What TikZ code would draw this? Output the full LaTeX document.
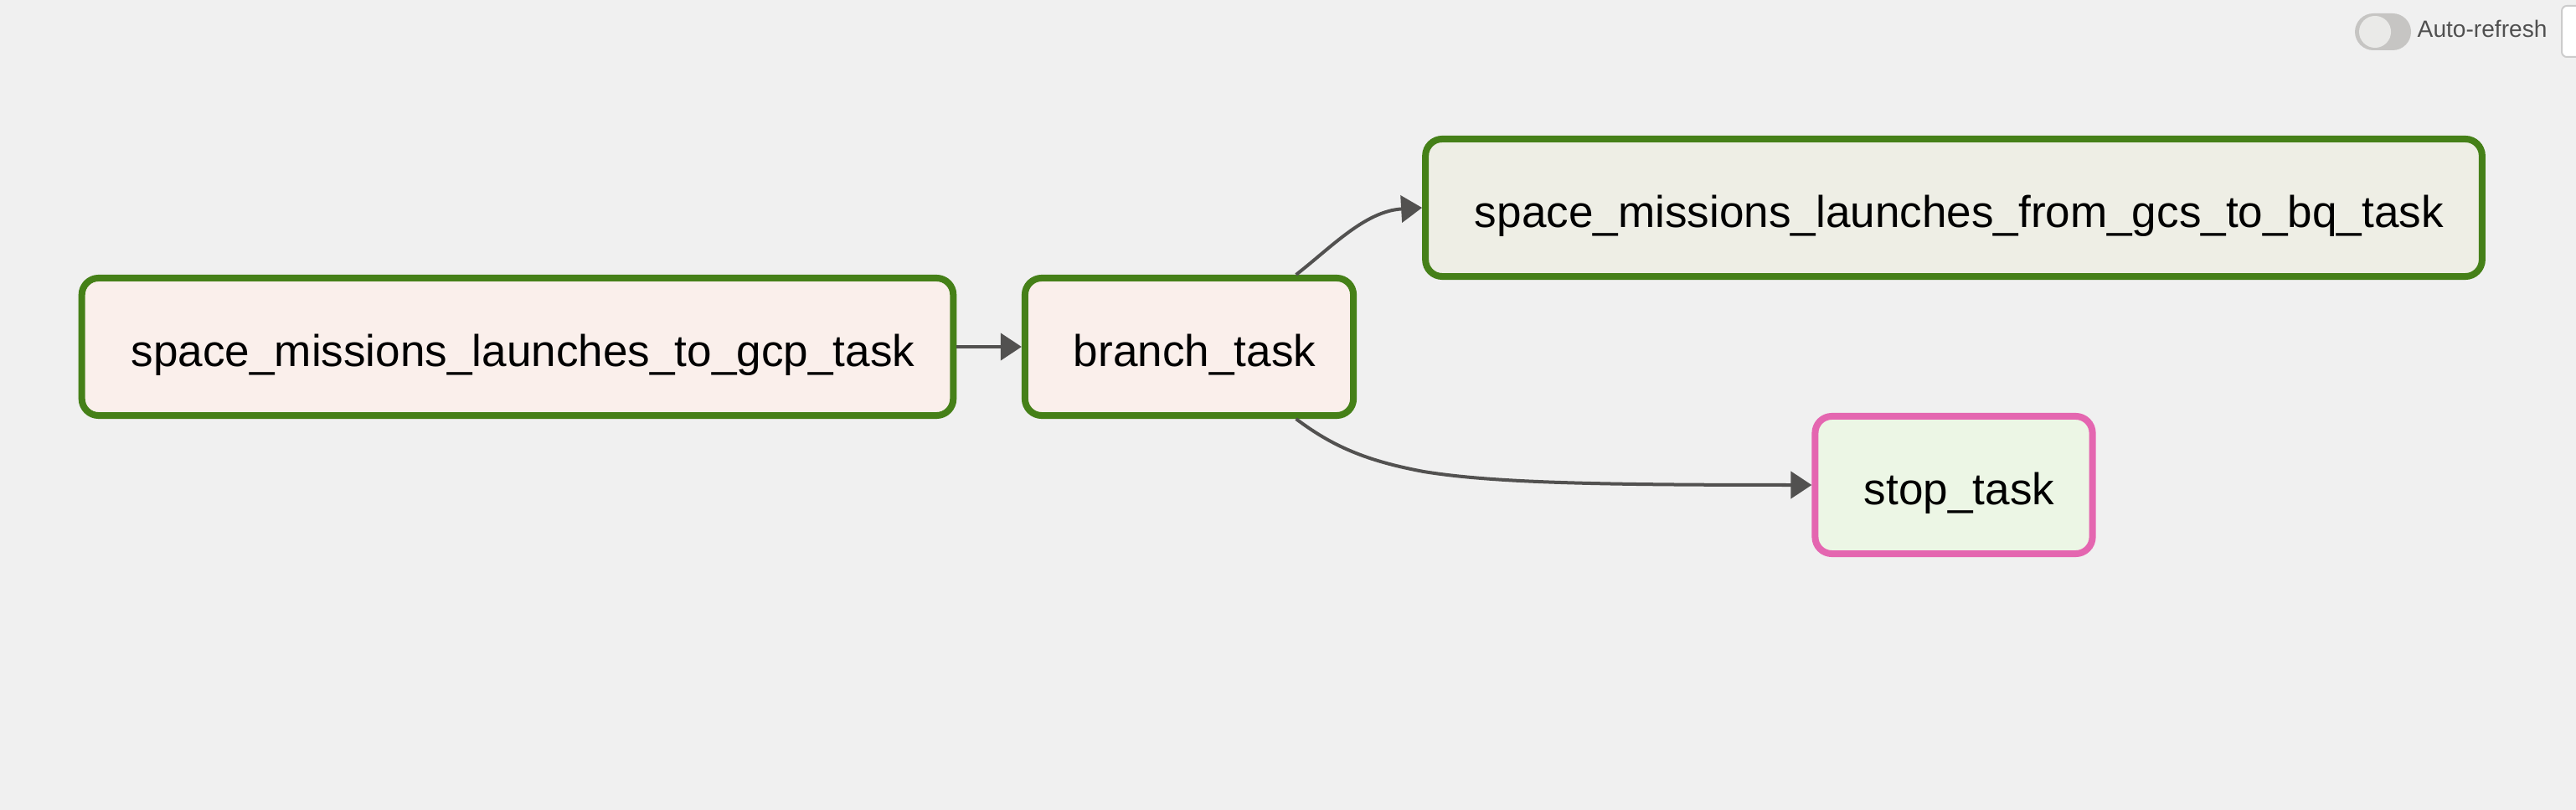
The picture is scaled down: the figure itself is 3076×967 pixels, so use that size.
\documentclass[tikz,border=0pt]{standalone}
\usepackage{fontspec}
\setmainfont{Liberation Sans}
\usepackage{tikz}
\usetikzlibrary{arrows.meta}

\definecolor{bgcol}{RGB}{240,240,240}
\definecolor{okgreen}{RGB}{69,128,24}
\definecolor{skippink}{RGB}{228,102,176}
\definecolor{pyfill}{RGB}{250,239,235}
\definecolor{gcsfill}{RGB}{238,238,229}
\definecolor{emptyfill}{RGB}{236,246,229}
\definecolor{edgegrey}{RGB}{82,81,80}
\definecolor{togglegrey}{RGB}{198,197,195}
\definecolor{knobgrey}{RGB}{234,234,232}
\definecolor{labelgrey}{RGB}{80,80,80}

\begin{document}
\begin{tikzpicture}[x=0.01cm, y=-0.01cm,
  task/.style={draw=okgreen, line width=0.08cm, rounded corners=0.2cm, inner sep=0pt,
    minimum height=1.64cm, text height=0.47cm, text depth=0pt, text=black,
    font=\fontsize{15.1pt}{18pt}\selectfont, execute at begin node=\hspace*{0.13cm}},
  edge/.style={draw=edgegrey, line width=0.04cm, -{Triangle[length=0.25cm,width=0.32cm]}}]
\path[fill=bgcol, use as bounding box] (0,0) rectangle (3076,967);
\node[task, fill=pyfill, minimum width=10.40cm](gcp) at (618,414) {space\_missions\_launches\_to\_gcp\_task};
\node[task, fill=pyfill, minimum width=3.92cm](branch) at (1420,414) {branch\_task};
\node[task, fill=gcsfill, minimum width=12.61cm](gcs) at (2333,248) {space\_missions\_launches\_from\_gcs\_to\_bq\_task};
\node[task, draw=skippink, fill=emptyfill, minimum width=3.31cm](stop) at (2333,579) {stop\_task};
%
\draw[edge](gcp) -- (branch);
\draw[edge](branch.34.5) .. controls (1590,295) and (1630,252) .. (gcs.west);
\draw[edge](branch.-34.5) .. controls (1590,532) and (1630,550) .. (1700,563)
  .. controls (1780,576) and (1900,579) .. (stop.west);
%
% toggle in the corner
\fill[togglegrey, rounded corners=0.22cm] (2812,16) rectangle (2879,60);
\fill[knobgrey] (2836,38) circle (0.19cm);
\node[anchor=base west, inner sep=0pt, text=labelgrey, font=\fontsize{8pt}{9.6pt}\selectfont](autolbl) at (2886,45) {Auto-refresh};
\draw[fill=white, draw=black!20, line width=0.02cm, rounded corners=0.06cm] (3059,7) rectangle (3110,68);
\end{tikzpicture}
\end{document}
